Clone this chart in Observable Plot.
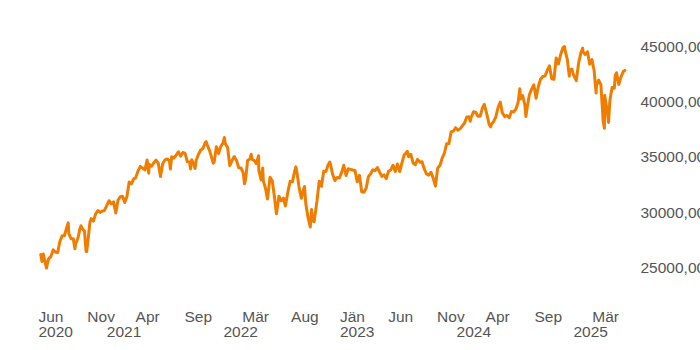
<!DOCTYPE html>
<html>
<head>
<meta charset="utf-8">
<script src="https://cdn.jsdelivr.net/npm/d3@7"></script>
<script src="https://cdn.jsdelivr.net/npm/@observablehq/plot@0.6"></script>
<style>
  html, body { margin: 0; padding: 0; background: #fff; overflow: hidden; }
  #chart { width: 700px; height: 350px; }
</style>
</head>
<body>
<div id="chart"></div>
<script>
// Series: daily/weekly closing values
const dates = [
"2020-06-08","2020-06-12","2020-06-16","2020-06-26","2020-07-02","2020-07-10","2020-07-17","2020-07-24","2020-07-31","2020-08-07","2020-08-14","2020-08-21","2020-08-28","2020-09-02","2020-09-04","2020-09-11","2020-09-18","2020-09-23","2020-09-25","2020-10-02","2020-10-09","2020-10-12","2020-10-16","2020-10-23","2020-10-28","2020-10-30","2020-11-06","2020-11-09","2020-11-13","2020-11-20","2020-11-27","2020-12-04","2020-12-11","2020-12-18","2020-12-24","2020-12-31",
"2021-01-08","2021-01-15","2021-01-22","2021-01-29","2021-02-05","2021-02-12","2021-02-19","2021-02-26","2021-03-05","2021-03-12","2021-03-19","2021-03-26","2021-04-01","2021-04-09","2021-04-16","2021-04-23","2021-04-30","2021-05-07","2021-05-12","2021-05-14","2021-05-21","2021-05-28","2021-06-04","2021-06-11","2021-06-18","2021-06-25","2021-07-02","2021-07-09","2021-07-16","2021-07-19","2021-07-23","2021-07-30","2021-08-06","2021-08-13","2021-08-20","2021-08-27","2021-09-03","2021-09-10","2021-09-17","2021-09-20","2021-09-24","2021-10-01","2021-10-04","2021-10-08","2021-10-15","2021-10-22","2021-10-29","2021-11-05","2021-11-08","2021-11-12","2021-11-19","2021-11-26","2021-11-30","2021-12-03","2021-12-10","2021-12-17","2021-12-23","2021-12-31",
"2022-01-04","2022-01-07","2022-01-14","2022-01-21","2022-01-28","2022-02-04","2022-02-11","2022-02-18","2022-02-25","2022-03-04","2022-03-08","2022-03-11","2022-03-18","2022-03-25","2022-03-29","2022-04-01","2022-04-08","2022-04-14","2022-04-21","2022-04-22","2022-04-29","2022-05-04","2022-05-06","2022-05-13","2022-05-19","2022-05-27","2022-06-03","2022-06-10","2022-06-16","2022-06-24","2022-07-01","2022-07-08","2022-07-14","2022-07-22","2022-07-29","2022-08-05","2022-08-12","2022-08-16","2022-08-19","2022-08-26","2022-09-02","2022-09-09","2022-09-12","2022-09-16","2022-09-23","2022-09-30","2022-10-04","2022-10-07","2022-10-12","2022-10-14","2022-10-21","2022-10-28","2022-11-04","2022-11-11","2022-11-18","2022-11-25","2022-11-30","2022-12-02","2022-12-09","2022-12-16","2022-12-23","2022-12-30",
"2023-01-06","2023-01-13","2023-01-20","2023-01-27","2023-02-03","2023-02-10","2023-02-17","2023-02-24","2023-03-03","2023-03-10","2023-03-17","2023-03-24","2023-03-31","2023-04-06","2023-04-14","2023-04-21","2023-04-28","2023-05-05","2023-05-12","2023-05-19","2023-05-26","2023-06-02","2023-06-09","2023-06-16","2023-06-23","2023-06-30","2023-07-07","2023-07-14","2023-07-21","2023-07-28","2023-07-31","2023-08-04","2023-08-11","2023-08-18","2023-08-25","2023-09-01","2023-09-08","2023-09-15","2023-09-22","2023-09-29","2023-10-06","2023-10-13","2023-10-20","2023-10-27","2023-11-03","2023-11-10","2023-11-17","2023-11-24","2023-12-01","2023-12-08","2023-12-15","2023-12-22","2023-12-29",
"2024-01-05","2024-01-12","2024-01-19","2024-01-26","2024-02-02","2024-02-09","2024-02-13","2024-02-16","2024-02-23","2024-03-01","2024-03-08","2024-03-15","2024-03-22","2024-03-28","2024-04-05","2024-04-12","2024-04-17","2024-04-19","2024-04-26","2024-05-03","2024-05-10","2024-05-17","2024-05-23","2024-05-31","2024-06-07","2024-06-14","2024-06-21","2024-06-28","2024-07-05","2024-07-12","2024-07-17","2024-07-19","2024-07-26","2024-08-02","2024-08-05","2024-08-09","2024-08-16","2024-08-23","2024-08-30","2024-09-06","2024-09-13","2024-09-20","2024-09-27","2024-10-04","2024-10-11","2024-10-18","2024-10-25","2024-11-01","2024-11-08","2024-11-15","2024-11-22","2024-11-29","2024-12-04","2024-12-06","2024-12-13","2024-12-19","2024-12-20","2024-12-27","2024-12-31",
"2025-01-10","2025-01-17","2025-01-24","2025-01-30","2025-01-31","2025-02-07","2025-02-14","2025-02-21","2025-02-28","2025-03-07","2025-03-13","2025-03-14","2025-03-21","2025-03-28","2025-04-04","2025-04-08","2025-04-09","2025-04-11","2025-04-17","2025-04-21","2025-04-25","2025-05-02","2025-05-09","2025-05-12","2025-05-16","2025-05-23","2025-05-30","2025-06-06","2025-06-11"
];
const closes = [
26250,25606,26290,25016,25827,26075,26672,26470,26428,27433,27931,27930,28654,29100,28133,27666,27657,26763,27174,27683,28587,28837,28606,28336,26519,26502,28323,29158,29480,29263,29910,30218,30046,30179,30200,30606,
31098,30814,30997,29983,31148,31458,31494,30932,31496,32779,32628,33072,33153,33800,34200,34043,33875,34778,33587,34382,34208,34529,34756,34480,33290,34433,34786,34870,34688,33962,35062,34935,35209,35515,35120,35456,35369,34608,34584,33970,34798,34326,34002,34746,35295,35677,35820,36328,36432,36100,35602,34899,34484,34580,35971,35365,35950,36338,
36800,36232,35912,34265,34725,35089,34738,34079,34059,33615,32632,32944,34755,34861,35294,34818,34721,34451,35160,33811,32977,34061,32899,32197,31253,33213,32900,31393,29927,31501,31097,31338,30630,31899,32845,32803,33761,34152,33706,32283,31318,32152,32381,30822,29590,28726,30316,29297,29210,29635,31083,32861,32403,33748,33746,34347,34590,34430,33476,32920,33204,33147,
33631,34303,33375,33978,33926,33870,33827,32817,33391,31910,31862,32238,33274,33485,33886,33809,34098,33675,33300,33427,33093,33763,33877,34299,33727,34408,33735,34509,35228,35459,35560,35066,35281,34501,34347,34838,34577,34618,33964,33508,33408,33670,33127,32418,34061,34283,34947,35390,36246,36248,37306,37385,37690,
37466,37593,37863,38109,38654,38672,38273,38628,39131,39087,38723,38715,39476,39807,38904,37983,37753,37986,38240,38676,39513,40004,39065,38686,38799,38589,39150,39119,39376,40001,41198,40288,40589,39737,38703,39497,40659,41175,41563,40345,41394,42063,42313,42352,42864,43276,42114,42052,43989,43445,44297,44911,45014,44643,43828,42343,42840,42992,42544,
41938,43488,44424,44882,44545,44303,44546,43428,43841,42802,40813,41488,41985,41584,38315,37646,40608,40212,39142,38170,40114,41317,41249,42410,42655,41603,42270,42763,42866
];

// Axis ticks and labels
const yTicks = [25000, 30000, 35000, 40000, 45000];
const monthTicks = ["2020-06-01","2020-11-01","2021-04-01","2021-09-01","2022-03-01","2022-08-01","2023-01-01","2023-06-01","2023-11-01","2024-04-01","2024-09-01","2025-03-01"];
const monthLabels = ["Jun","Nov","Apr","Sep","Mär","Aug","Jän","Jun","Nov","Apr","Sep","Mär"];
const yearTicks = ["2020-06-01","2021-01-01","2022-01-01","2023-01-01","2024-01-01","2025-01-01"];
const yearLabels = ["2020","2021","2022","2023","2024","2025"];

const data = dates.map((d, i) => ({date: new Date(d), close: closes[i]}));
const textColor = "#555555";

const chart = Plot.plot({
  width: 700,
  height: 350,
  marginTop: 13,
  marginBottom: 49,
  marginLeft: 38,
  marginRight: 60,
  style: {fontFamily: "'Liberation Sans', Arial, sans-serif", fontSize: "15.5px", background: "#fff", overflow: "visible"},
  x: {type: "utc", domain: [new Date("2020-06-01"), new Date("2025-07-30")], axis: null},
  y: {domain: [22000, 48000], axis: null},
  marks: [
    Plot.axisY(yTicks, {anchor: "right", label: null, tickSize: 0, tickPadding: 0, textAnchor: "start", fill: textColor,
      tickFormat: d => d.toFixed(2).replace(".", ",")}),
    Plot.line(data, {x: "date", y: "close", stroke: "#f07d00", strokeWidth: 3, strokeLinejoin: "round", strokeLinecap: "round"}),
    Plot.text(monthTicks, {x: d => new Date(d), text: (d, i) => monthLabels[i], frameAnchor: "bottom", dy: 20, textAnchor: "start", fill: textColor}),
    Plot.text(yearTicks, {x: d => new Date(d), text: (d, i) => yearLabels[i], frameAnchor: "bottom", dy: 35, textAnchor: "start", fill: textColor})
  ]
});
document.getElementById("chart").appendChild(chart);
</script>
</body>
</html>
